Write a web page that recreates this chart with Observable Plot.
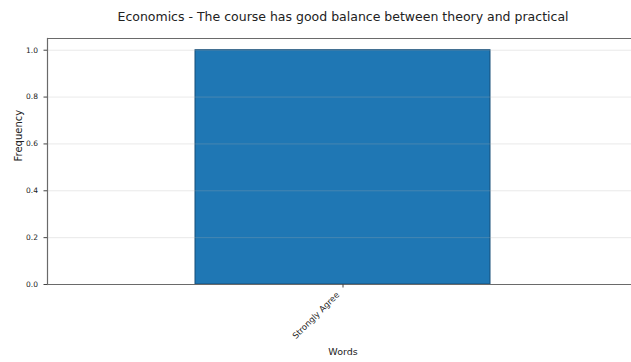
<!DOCTYPE html>
<html>
<head>
<meta charset="utf-8">
<script src="https://cdn.jsdelivr.net/npm/d3@7"></script>
<script src="https://cdn.jsdelivr.net/npm/@observablehq/plot@0.6"></script>
<style>
  html, body { margin: 0; padding: 0; background: #fff; }
  #chart svg { display: block; }
</style>
</head>
<body>
<div id="chart"></div>
<script>
const titleText = "Economics - The course has good balance between theory and practical";
const categories = ["Strongly Agree"];
const frequencies = [1];
const yTicks = [0, 0.2, 0.4, 0.6, 0.8, 1.0];
const xLabel = "Words";
const yLabel = "Frequency";

const data = categories.map((c, i) => ({word: c, freq: frequencies[i]}));
const font = "DejaVu Sans, sans-serif";

const chart = Plot.plot({
  width: 631,
  height: 362,
  marginLeft: 47,
  marginRight: 0,
  marginTop: 38,
  marginBottom: 78,
  style: {fontFamily: font, background: "#fff", color: "#222"},
  x: {type: "band", domain: categories, range: [47, 638], padding: 1/3, axis: null},
  y: {domain: [0, 1.05], axis: null},
  marks: [
    Plot.barY(data, {x: "word", y: "freq", fill: "#1f77b4", stroke: "#174f78", strokeWidth: 1}),
    Plot.gridY(yTicks, {stroke: "#b0b0b0", strokeOpacity: 0.35, strokeWidth: 0.8}),
    Plot.frame({anchor: "left", stroke: "#6a6a6a", strokeWidth: 1.2}),
    Plot.ruleY([0, 1.05], {stroke: "#6a6a6a", strokeWidth: 1.2}),
    Plot.axisY(yTicks, {
      tickFormat: d => d.toFixed(1),
      tickSize: 3.5,
      tickPadding: 6,
      fontSize: 7.5,
      stroke: "#444",
      label: null
    }),
    Plot.text([yLabel], {
      frameAnchor: "left", dx: -29, rotate: -90, fontSize: 10, fill: "#222", text: d => d
    }),
    Plot.axisX(categories, {
      tickSize: 3.5,
      text: null,
      label: null,
      stroke: "#444"
    }),
    Plot.axisX(categories, {
      tickSize: 0,
      tickRotate: -45,
      textAnchor: "end",
      fontSize: 8.4,
      tickPadding: 5,
      dx: -5,
      dy: 4,
      label: null
    }),
    Plot.text([xLabel], {
      x: () => categories[0], frameAnchor: "bottom", dy: 70, fontSize: 9.5, fill: "#222", text: d => d
    }),
    Plot.text([titleText], {
      x: () => categories[0], y: () => 1.05, dy: -22, fontSize: 12.5, fill: "#222", text: d => d
    })
  ]
});
document.getElementById("chart").appendChild(chart);
</script>
</body>
</html>
